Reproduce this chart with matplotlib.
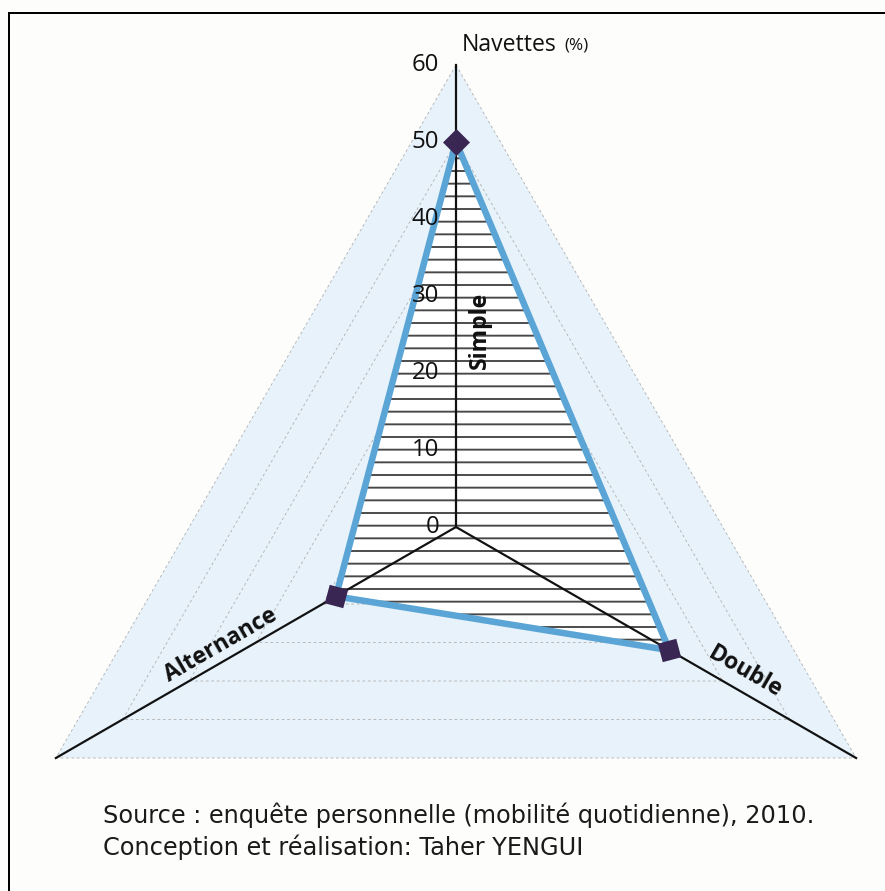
import numpy as np
import matplotlib
matplotlib.use('Agg')
import matplotlib.pyplot as plt
from matplotlib.lines import Line2D
from matplotlib.markers import MarkerStyle

# ---------------- data ----------------
categories = ['Simple', 'Double', 'Alternance']
values = [50, 32, 18]
rticks = [0, 10, 20, 30, 40, 50, 60]
rmax = 60
axis_title = 'Navettes'
axis_unit = '(%)'
source_lines = ['Source : enquête personnelle (mobilité quotidienne), 2010.',
                'Conception et réalisation: Taher YENGUI']

# ---------------- layout ----------------
DPI = 76
W, H = 885, 891
px = 72.0 / DPI  # points per pixel
plt.rcParams['hatch.linewidth'] = 1.8

fig = plt.figure(figsize=(W / DPI, H / DPI), dpi=DPI, facecolor='#fdfdfc')

cx, cy, R = 456, 527, 462
ax = fig.add_axes([(cx - R) / W, (H - cy - R) / H, 2 * R / W, 2 * R / H],
                  projection='polar')
ax.set_theta_offset(np.pi / 2)
ax.set_theta_direction(-1)
ax.set_ylim(0, rmax)
ax.axis('off')

n = len(categories)
theta = np.arange(n) * 2 * np.pi / n
tc = np.append(theta, theta[0])
vc = np.append(values, values[0])

# light blue background triangle
ax.fill(tc, [rmax] * (n + 1), color='#e7f2fa', lw=0, zorder=0)
# dotted grid triangles
for r in rticks[1:]:
    ax.plot(tc, [r] * (n + 1), color='#b4b4b4', lw=0.9 * px,
            ls=(0, (3, 3)), zorder=1, clip_on=False)

# hatched data area
ax.fill(tc, vc, facecolor='white', edgecolor='#474747', hatch='-',
        linewidth=0, zorder=2)

# axis lines
for t in theta:
    ax.plot([t, t], [0, rmax], color='#111111', lw=2.2 * px, zorder=3,
            clip_on=False)

# data outline
ax.plot(tc, vc, color='#5aa5d6', lw=6.5 * px, zorder=4, solid_joinstyle='round')

# markers (squares rotated with each axis)
for t, v in zip(theta, values):
    m = MarkerStyle((4, 0, -np.degrees(t)))
    ax.plot([t], [v], marker=m, ms=27 * px, color='#3a2652', mec='#3a2652',
            mew=0, ls='none', zorder=5, clip_on=False)

# radial tick labels on the first axis
for r in rticks:
    ax.annotate(str(r), xy=(0, r), xytext=(-17, 0), textcoords='offset pixels',
                ha='right', va='center', fontsize=24 * px, family='Open Sans',
                color='#111111', zorder=6)

# axis title
ax.annotate(axis_title, xy=(0, rmax), xytext=(6, 20), textcoords='offset pixels',
            ha='left', va='center', fontsize=23 * px, family='Open Sans',
            color='#111111', annotation_clip=False)
ax.annotate(axis_unit, xy=(0, rmax), xytext=(108, 19), textcoords='offset pixels',
            ha='left', va='center', fontsize=17 * px, family='Open Sans',
            color='#111111', annotation_clip=False)

# category labels along the axes
label_r = [25.5, 41.9, 34.2]
label_rot = [90, -30, 30]
label_off = [(24, 0), (9.5, 16.5), (-7.5, 13.0)]
for t, name, r, rot, off in zip(theta, categories, label_r, label_rot, label_off):
    ax.annotate(name, xy=(t, r), xytext=off, textcoords='offset pixels',
                ha='center', va='center', rotation=rot, rotation_mode='anchor',
                fontsize=23 * px, family='Open Sans', fontweight='bold',
                color='#111111', zorder=6)

# footer
for txt, yb in zip(source_lines, [823, 855]):
    fig.text(103 / W, 1 - yb / H, txt, ha='left', va='baseline',
             fontsize=24 * px, family='DejaVu Sans', color='#1a1a1a')

# frame (top and left edges)
fig.add_artist(Line2D([9 / W, 9 / W], [0, 1 - 13 / H], color='black',
                      lw=2 * px, transform=fig.transFigure))
fig.add_artist(Line2D([9 / W, 1], [1 - 13 / H, 1 - 13 / H], color='black',
                      lw=2 * px, transform=fig.transFigure))

fig.savefig('out.png', dpi=DPI, facecolor=fig.get_facecolor())
